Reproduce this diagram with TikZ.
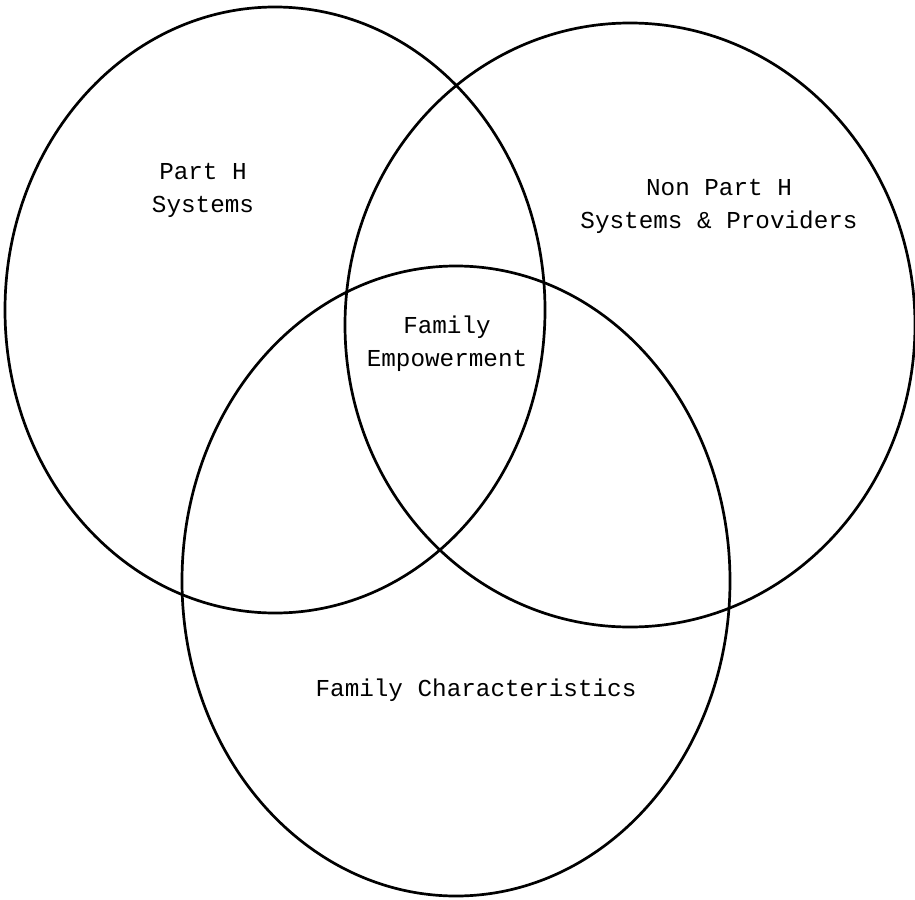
\documentclass[tikz,border=0pt]{standalone}
\usepackage{fontspec}
\setmonofont{Liberation Mono}
\begin{document}
\begin{tikzpicture}[x=1pt,y=-1pt,
  setring/.style={draw=black,line width=2.7pt},
  setlabel/.style={font=\ttfamily\fontsize{24.3}{33}\selectfont,align=center,inner sep=0pt}]
\useasboundingbox (0,0) rectangle (915,899);
\draw[setring] (275,310) ellipse [x radius=270, y radius=303];
\draw[setring] (630,325) ellipse [x radius=285, y radius=302];
\draw[setring] (456,581) ellipse [x radius=274, y radius=315];
\node[setlabel] (parth) at (203,190) {Part H\\Systems};
\node[setlabel] (nonparth) at (719,206) {Non Part H\\Systems \& Providers};
\node[setlabel] (empower) at (447,344) {Family\\Empowerment};
\node[setlabel,anchor=base] (charac) at (476,696) {Family Characteristics};
\end{tikzpicture}
\end{document}
